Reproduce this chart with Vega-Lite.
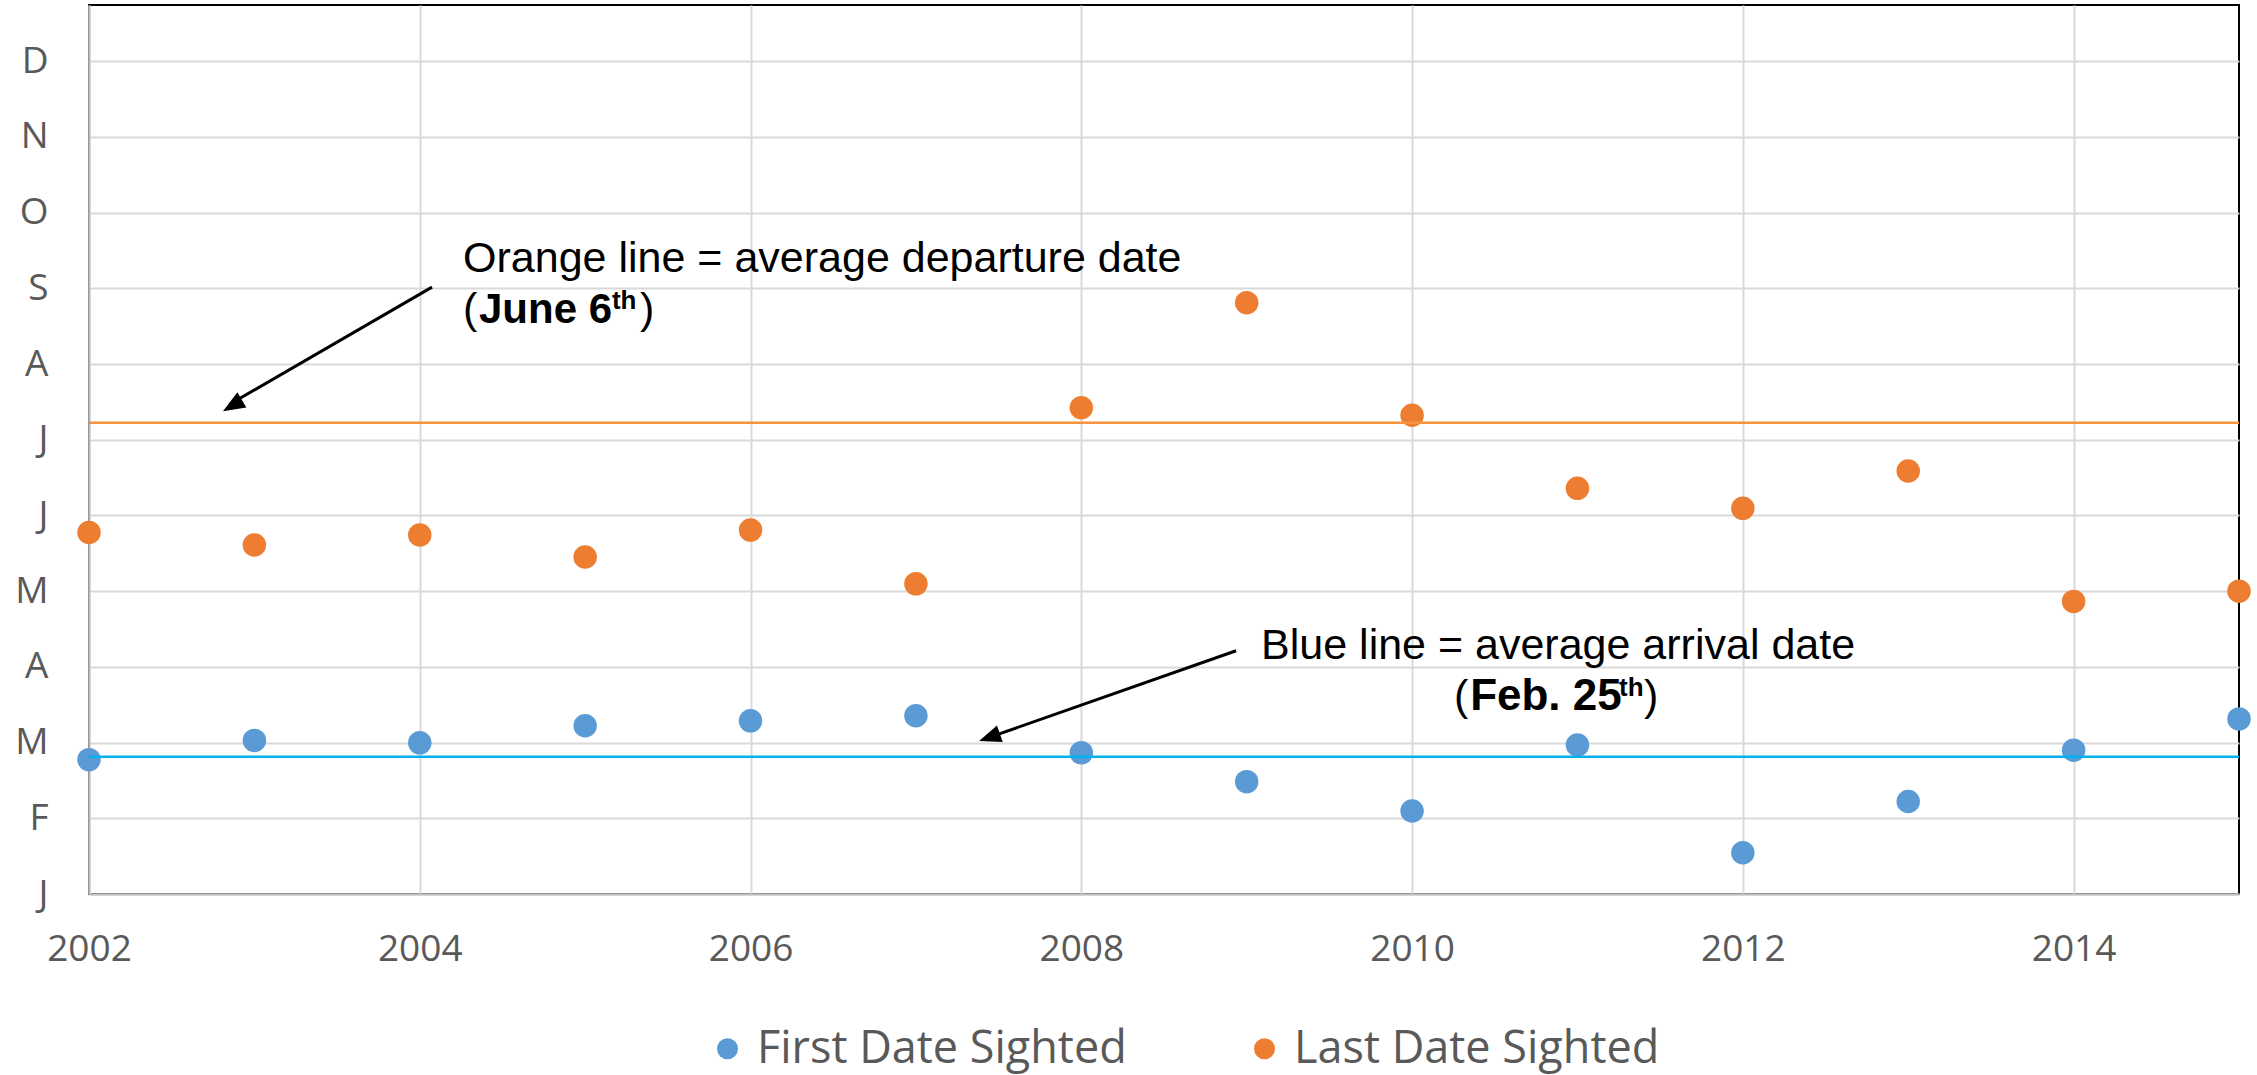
{
  "$schema": "https://vega.github.io/schema/vega-lite/v6.json",
  "width": 2150,
  "height": 889,
  "autosize": {"type": "none"},
  "padding": {"left": 89, "top": 5, "right": 18, "bottom": 181},
  "background": "white",
  "config": {
    "view": {"stroke": "#000000", "strokeWidth": 2},
    "axis": {
      "domainColor": "#BFBFBF",
      "domainWidth": 2,
      "gridColor": "#D9D9D9",
      "gridWidth": 2,
      "ticks": false,
      "tickSize": 0,
      "labelFlush": false,
      "labelOverlap": false,
      "labelFont": "Open Sans",
      "labelFontSize": 37,
      "labelColor": "#595959",
      "title": null
    }
  },
  "datasets": {
    "sightings": [
      {"year": 2002, "series": "First Date Sighted", "day": 55.0},
      {"year": 2003, "series": "First Date Sighted", "day": 62.9},
      {"year": 2004, "series": "First Date Sighted", "day": 61.9},
      {"year": 2005, "series": "First Date Sighted", "day": 68.9},
      {"year": 2006, "series": "First Date Sighted", "day": 70.9},
      {"year": 2007, "series": "First Date Sighted", "day": 73.0},
      {"year": 2008, "series": "First Date Sighted", "day": 57.8},
      {"year": 2009, "series": "First Date Sighted", "day": 46.0},
      {"year": 2010, "series": "First Date Sighted", "day": 34.0},
      {"year": 2011, "series": "First Date Sighted", "day": 61.0},
      {"year": 2012, "series": "First Date Sighted", "day": 16.9},
      {"year": 2013, "series": "First Date Sighted", "day": 37.9},
      {"year": 2014, "series": "First Date Sighted", "day": 58.9},
      {"year": 2015, "series": "First Date Sighted", "day": 71.7},
      {"year": 2002, "series": "Last Date Sighted", "day": 148.0},
      {"year": 2003, "series": "Last Date Sighted", "day": 142.9},
      {"year": 2004, "series": "Last Date Sighted", "day": 147.0},
      {"year": 2005, "series": "Last Date Sighted", "day": 138.0},
      {"year": 2006, "series": "Last Date Sighted", "day": 149.0},
      {"year": 2007, "series": "Last Date Sighted", "day": 127.0},
      {"year": 2008, "series": "Last Date Sighted", "day": 199.1},
      {"year": 2009, "series": "Last Date Sighted", "day": 242.1},
      {"year": 2010, "series": "Last Date Sighted", "day": 196.0},
      {"year": 2011, "series": "Last Date Sighted", "day": 166.1},
      {"year": 2012, "series": "Last Date Sighted", "day": 157.9},
      {"year": 2013, "series": "Last Date Sighted", "day": 173.2},
      {"year": 2014, "series": "Last Date Sighted", "day": 119.8},
      {"year": 2015, "series": "Last Date Sighted", "day": 124.0}
    ]
  },
  "layer": [
    {
      "data": {"name": "sightings"},
      "mark": {"type": "circle", "size": 552, "opacity": 1},
      "encoding": {
        "x": {
          "field": "year",
          "type": "quantitative",
          "scale": {"domain": [2002, 2015], "nice": false, "zero": false},
          "axis": {"values": [2002, 2004, 2006, 2008, 2010, 2012, 2014], "format": "d", "labelPadding": 37, "grid": true}
        },
        "y": {
          "field": "day",
          "type": "quantitative",
          "scale": {"domain": [0, 364], "nice": false, "zero": false},
          "axis": {
            "values": [0, 31, 62, 93, 124, 155, 186, 217, 248, 279, 310, 341],
            "labelExpr": "['J','F','M','A','M','J','J','A','S','O','N','D'][round(datum.value/31)]",
            "labelPadding": 41,
            "grid": true
          }
        },
        "color": {
          "field": "series",
          "type": "nominal",
          "scale": {"domain": ["First Date Sighted", "Last Date Sighted"], "range": ["#5B9BD5", "#ED7D31"]},
          "legend": {
            "orient": "none",
            "legendX": 616,
            "legendY": 1021,
            "direction": "horizontal",
            "title": null,
            "symbolType": "circle",
            "symbolSize": 441,
            "symbolStrokeWidth": 0,
            "labelFont": "Open Sans",
            "labelFontSize": 45,
            "labelColor": "#595959",
            "labelLimit": 1000,
            "labelOffset": 7,
            "columnPadding": 115,
            "padding": 0
          }
        }
      }
    },
    {
      "data": {"values": [{"day": 193.0}]},
      "mark": {"type": "rule", "color": "#F7923F", "strokeWidth": 2.5},
      "encoding": {"y": {"field": "day", "type": "quantitative"}}
    },
    {
      "data": {"values": [{"day": 56.2}]},
      "mark": {"type": "rule", "color": "#00B0F0", "strokeWidth": 2.5},
      "encoding": {"y": {"field": "day", "type": "quantitative"}}
    },
    {
      "data": {"values": [
        {"year": 2004.074, "day": 248.5, "year2": 2002.85, "day2": 200.5},
        {"year": 2008.936, "day": 99.6, "year2": 2007.43, "day2": 63.8}
      ]},
      "mark": {"type": "rule", "color": "#000000", "strokeWidth": 3},
      "encoding": {
        "x": {"field": "year", "type": "quantitative"},
        "x2": {"field": "year2"},
        "y": {"field": "day", "type": "quantitative"},
        "y2": {"field": "day2"}
      }
    },
    {
      "data": {"values": [{"year": 2002.81, "day": 197.7}]},
      "mark": {"type": "point", "shape": "M0,0L-0.4,1L0.4,1Z", "size": 1936, "filled": true, "color": "#000000", "opacity": 1, "strokeWidth": 0, "angle": 239.3},
      "encoding": {"x": {"field": "year", "type": "quantitative"}, "y": {"field": "day", "type": "quantitative"}}
    },
    {
      "data": {"values": [{"year": 2007.382, "day": 62.6}]},
      "mark": {"type": "point", "shape": "M0,0L-0.4,1L0.4,1Z", "size": 1936, "filled": true, "color": "#000000", "opacity": 1, "strokeWidth": 0, "angle": 250.6},
      "encoding": {"x": {"field": "year", "type": "quantitative"}, "y": {"field": "day", "type": "quantitative"}}
    },
    {
      "data": {"values": [
        {"year": 2004.262, "day": 254.8, "label": "Orange line = average departure date"},
        {"year": 2004.262, "day": 233.9, "label": "("},
        {"year": 2005.332, "day": 233.9, "label": ")"},
        {"year": 2009.087, "day": 96.1, "label": "Blue line = average arrival date"},
        {"year": 2010.254, "day": 75.3, "label": "("},
        {"year": 2011.402, "day": 75.3, "label": ")"}
      ]},
      "mark": {"type": "text", "font": "Liberation Sans", "fontSize": 43, "align": "left", "baseline": "alphabetic", "color": "#000000"},
      "encoding": {
        "x": {"field": "year", "type": "quantitative"},
        "y": {"field": "day", "type": "quantitative"},
        "text": {"field": "label"}
      }
    },
    {
      "data": {"values": [
        {"year": 2004.358, "day": 233.9, "label": "June 6"}
      ]},
      "mark": {"type": "text", "font": "Liberation Sans", "fontSize": 42, "fontWeight": "bold", "align": "left", "baseline": "alphabetic", "color": "#000000"},
      "encoding": {
        "x": {"field": "year", "type": "quantitative"},
        "y": {"field": "day", "type": "quantitative"},
        "text": {"field": "label"}
      }
    },
    {
      "data": {"values": [
        {"year": 2010.351, "day": 75.3, "label": "Feb. 25"}
      ]},
      "mark": {"type": "text", "font": "Liberation Sans", "fontSize": 44, "fontWeight": "bold", "align": "left", "baseline": "alphabetic", "color": "#000000"},
      "encoding": {
        "x": {"field": "year", "type": "quantitative"},
        "y": {"field": "day", "type": "quantitative"},
        "text": {"field": "label"}
      }
    },
    {
      "data": {"values": [
        {"year": 2005.162, "day": 239.4, "label": "th"},
        {"year": 2011.251, "day": 81.1, "label": "th"}
      ]},
      "mark": {"type": "text", "font": "Liberation Sans", "fontSize": 26, "fontWeight": "bold", "align": "left", "baseline": "alphabetic", "color": "#000000"},
      "encoding": {
        "x": {"field": "year", "type": "quantitative"},
        "y": {"field": "day", "type": "quantitative"},
        "text": {"field": "label"}
      }
    }
  ]
}
